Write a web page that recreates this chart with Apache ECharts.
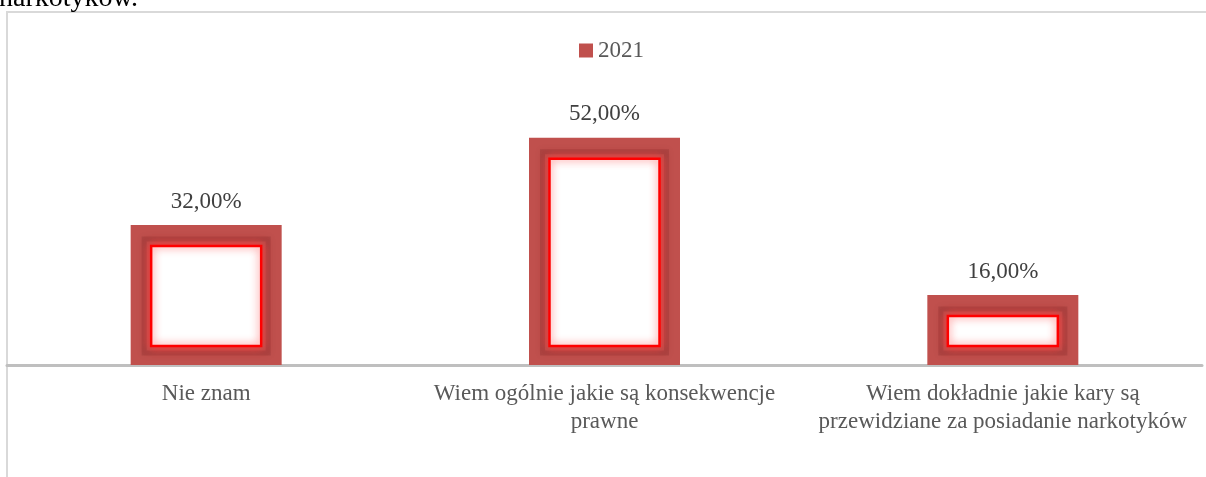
<!DOCTYPE html>
<html>
<head>
<meta charset="utf-8">
<script src="https://cdn.jsdelivr.net/npm/echarts@6/dist/echarts.min.js"></script>
<style>
  html, body { margin: 0; padding: 0; background: #fff; }
  #chart { width: 1206px; height: 477px; }
</style>
</head>
<body>
<div id="chart"></div>
<script>
var categories = [
    'Nie znam',
    'Wiem ogólnie jakie są konsekwencje\nprawne',
    'Wiem dokładnie jakie kary są\nprzewidziane za posiadanie narkotyków'
];
var values2021 = [32, 52, 16];
var seriesName = '2021';
var titleTail = 'narkotyków.';

var chart = echarts.init(document.getElementById('chart'));
var FONT = "'Liberation Serif', 'Times New Roman', serif";

function fmtPct(v) {
    return v.toFixed(2).replace('.', ',') + '%';
}

// white inner box with red glowing border, drawn inside each bar
function renderInner(params, api) {
    var top = api.coord([api.value(0), api.value(1)]);
    var base = api.coord([api.value(0), 0]);
    return {
        type: 'group',
        children: [{
            type: 'rect',
            shape: { x: top[0] - 62, y: top[1] + 14, width: 124, height: base[1] - top[1] - 26 },
            style: { fill: 'rgba(0,0,0,0)', stroke: 'rgba(110,30,30,0.2)', lineWidth: 5, shadowBlur: 6, shadowColor: 'rgba(90,20,20,0.35)' },
            silent: true
        }, {
            type: 'rect',
            shape: { x: top[0] - 55, y: top[1] + 21, width: 110, height: base[1] - top[1] - 40 },
            style: { fill: '#fff', stroke: '#ff0000', lineWidth: 2.5, shadowBlur: 9, shadowColor: 'rgba(255,60,60,0.9)' },
            silent: true
        }]
    };
}

var option = {
    animation: false,
    textStyle: { fontFamily: FONT },
    graphic: [{
        type: 'rect',
        shape: { x: 7, y: 12, width: 1260, height: 520 },
        style: { fill: 'none', stroke: '#d9d9d9', lineWidth: 2 },
        z: -1,
        silent: true
    }, {
        type: 'text',
        style: { x: -1, y: 13, text: titleTail, font: '28px ' + FONT, fill: '#000', verticalAlign: 'bottom' },
        silent: true
    }],
    legend: {
        data: [seriesName],
        left: 574,
        top: 34,
        itemWidth: 14,
        itemHeight: 14,
        itemGap: 4,
        icon: 'rect',
        textStyle: { fontFamily: FONT, fontSize: 23, color: '#595959' }
    },
    grid: { left: 7, right: 4, top: 59, bottom: 112 },
    xAxis: {
        type: 'category',
        data: categories,
        axisTick: { show: false },
        axisLine: { lineStyle: { color: '#bfbfbf', width: 3 } },
        axisLabel: { fontFamily: FONT, fontSize: 23, color: '#595959', lineHeight: 28, margin: 15, interval: 0 }
    },
    yAxis: {
        type: 'value',
        min: 0,
        max: 70,
        show: false,
        splitLine: { show: false }
    },
    series: [{
        name: seriesName,
        type: 'bar',
        barWidth: 151,
        data: values2021,
        itemStyle: { color: '#c0504d' },
        label: {
            show: true,
            position: 'top',
            distance: 12,
            fontFamily: FONT,
            fontSize: 23,
            color: '#404040',
            formatter: function (p) { return fmtPct(p.value); }
        }
    }, {
        name: 'inner',
        type: 'custom',
        renderItem: renderInner,
        data: values2021.map(function (v, i) { return [i, v]; }),
        encode: { x: 0, y: 1 },
        z: 3
    }]
};

chart.setOption(option);
</script>
</body>
</html>
